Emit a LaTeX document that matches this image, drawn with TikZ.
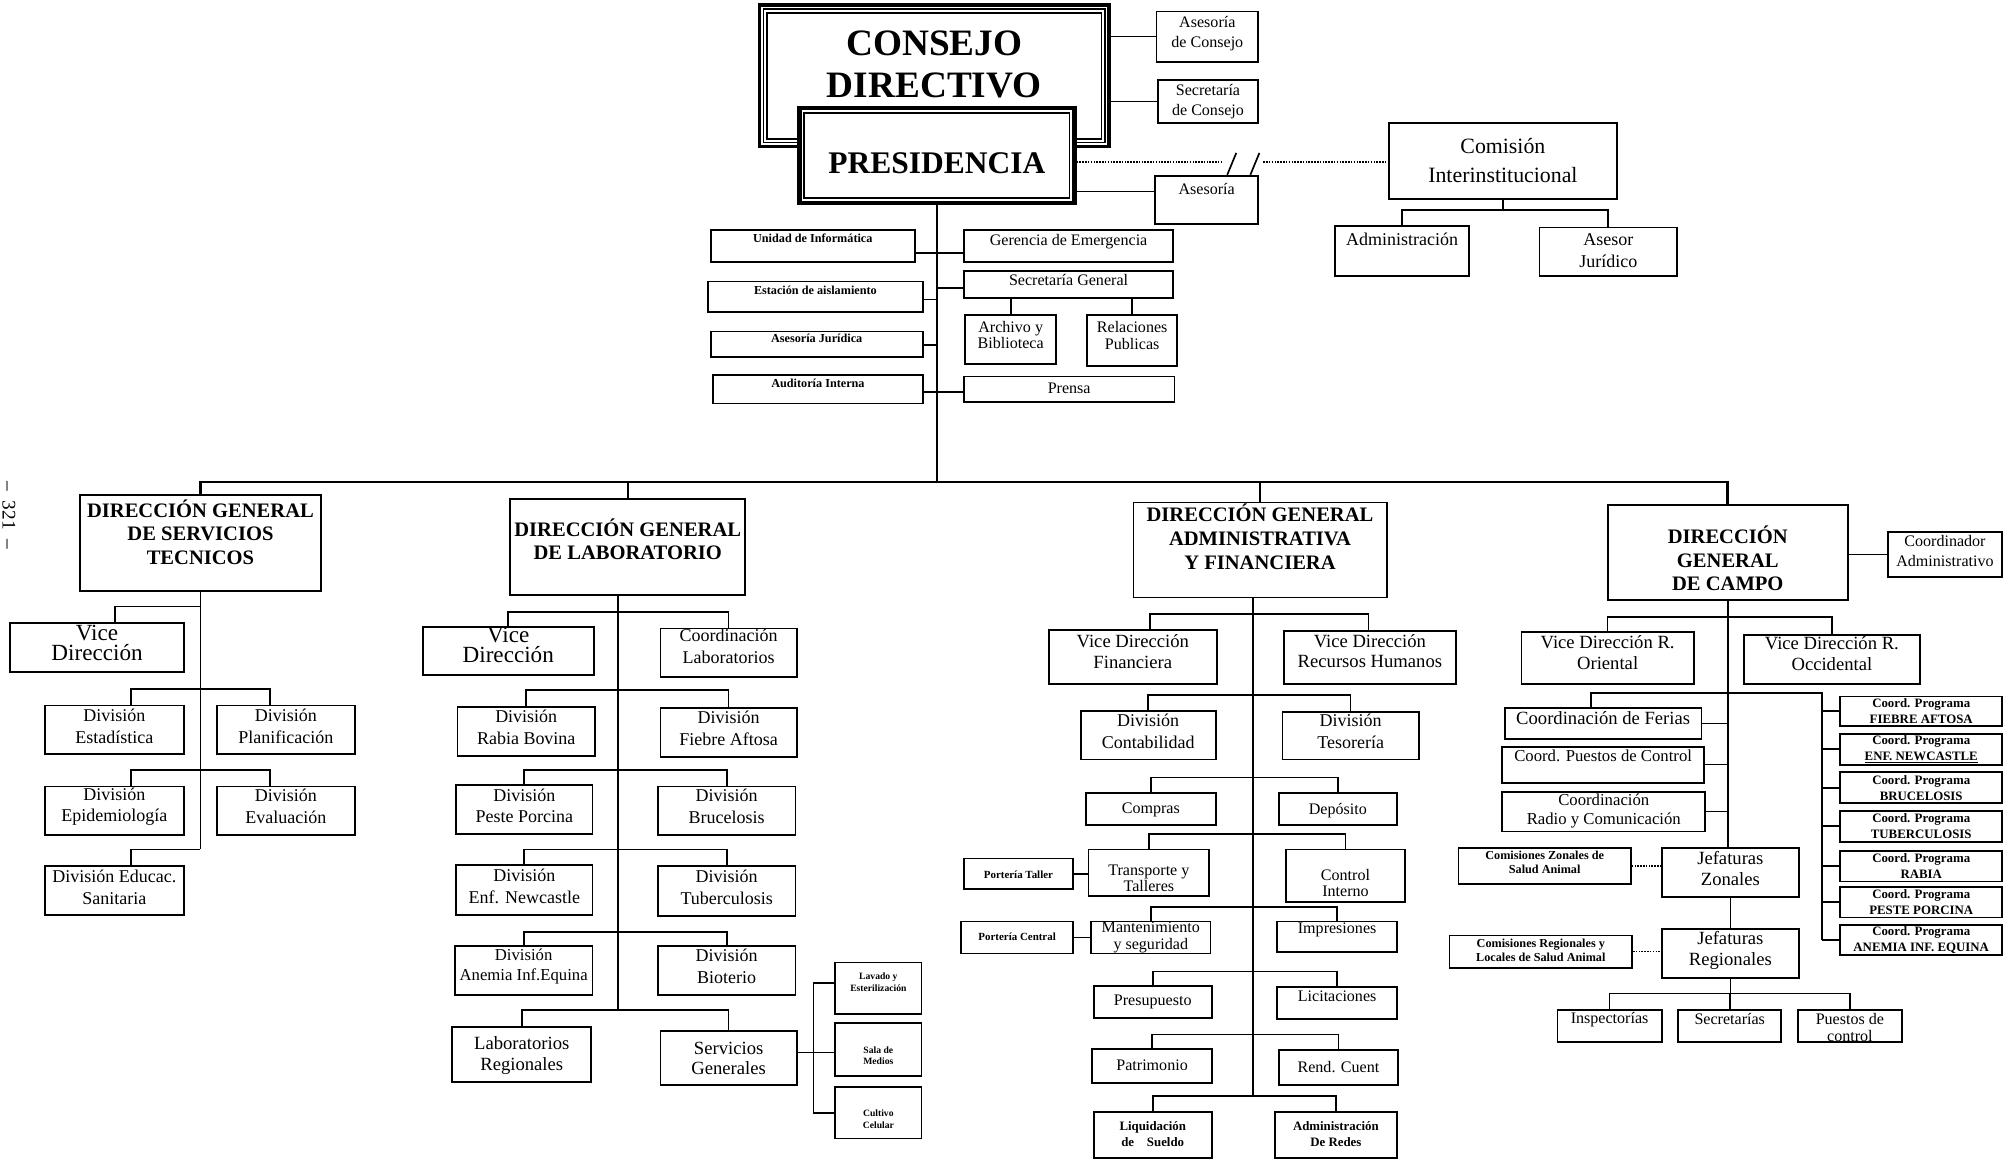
\documentclass[tikz,border=0pt]{standalone}
\usepackage{fontspec}
\setmainfont{Liberation Serif}
\tikzset{
 box/.style={draw,line width=1.4pt,inner sep=0pt,fill=white},
 txt/.style={align=center,inner sep=0pt,font=\fontsize{14}{17}\selectfont},
 conn/.style={line width=1.3pt},
 busline/.style={line width=2.2pt},
 dotconn/.style={line width=1.2pt,densely dotted},
 fdg/.style={font=\bfseries\fontsize{16}{18.3}\selectfont},
 fvd/.style={font=\fontsize{18}{15.5}\selectfont},
 fdiv/.style={font=\fontsize{14}{17}\selectfont},
 fdivs/.style={font=\fontsize{13}{15}\selectfont},
 fmid/.style={font=\fontsize{14.5}{16}\selectfont},
 fsm/.style={font=\fontsize{12.5}{15.5}\selectfont},
 fsmt/.style={font=\fontsize{12.5}{13}\selectfont},
 ftb/.style={font=\bfseries\fontsize{9.5}{11}\selectfont},
 fprog/.style={font=\bfseries\fontsize{10}{12.3}\selectfont},
 fcz/.style={font=\bfseries\fontsize{9.5}{11}\selectfont},
 flav/.style={font=\bfseries\fontsize{7.5}{9}\selectfont},
 fport/.style={font=\bfseries\fontsize{8.5}{10}\selectfont},
 fliq/.style={font=\bfseries\fontsize{10}{12}\selectfont},
 fcom/.style={font=\fontsize{17}{22}\selectfont},
}
\newcommand\bx[8][]{%
  \node[box,minimum width={#5-#3},minimum height={#6-#4}] (#2) at ({(#3+#5)/2},{(#4+#6)/2}) {};%
  \node[txt,#1] (#2t) at ({(#3+#5)/2},#7) {#8};}
\newcommand\brk[3]{\draw[conn] (#1.north) -- (#1.north |- 0,#3) -- (#2.north |- 0,#3) -- (#2.north);}
\begin{document}
\begin{tikzpicture}[x=1pt,y=-1pt]
\fill[white] (0,0) rectangle (1568,903);
\useasboundingbox (0,0) rectangle (1568,903);

% page number
\node[rotate=-90,inner sep=0pt,font=\fontsize{15}{15}\selectfont] (pageno) at (7,401) {–\ \ 321\ \ –};

% Consejo Directivo
\node[draw,line width=3pt,inner sep=0pt,minimum width=272,minimum height=110] (consejo) at (727,59) {};
\draw[line width=1.2pt] ([shift={(4.5,4.5)}]consejo.north west) rectangle ([shift={(-4.5,-4.5)}]consejo.south east);
\draw[line width=1.2pt] ([shift={(7.5,7.5)}]consejo.north west) rectangle ([shift={(-7.5,-7.5)}]consejo.south east);
\node[align=center,inner sep=0pt,font=\bfseries\fontsize{29}{33}\selectfont] (consejot) at (727,50) {CONSEJO\\DIRECTIVO};

% Presidencia
\node[draw,line width=3.5pt,fill=white,inner sep=0pt,minimum width=214,minimum height=74] (pres) at (729,121) {};
\draw[line width=1.2pt] ([shift={(5.5,5.5)}]pres.north west) rectangle ([shift={(-5.5,-5.5)}]pres.south east);
\node[inner sep=0pt,font=\bfseries\fontsize{24.5}{28}\selectfont] (prest) at (729,127) {PRESIDENCIA};

% advisory boxes
\bx[fsm]{asc}{900}{9}{979}{48}{26}{Asesoría\\de Consejo}
\bx[fsm]{sec}{901}{62}{979}{96}{79}{Secretaría\\de Consejo}
\bx[fsm]{ase}{899}{137}{979}{174}{147}{Asesoría}
\bx[fcom]{com}{1081}{96}{1258}{155}{125}{Comisión\\Interinstitucional}
\bx[fdiv]{adm}{1039}{176}{1143}{215}{186}{Administración}
\bx[fdiv]{asj}{1198}{177}{1305}{215}{195}{Asesor\\Jurídico}

% staff
\bx[ftb]{uni}{553}{179}{712}{204}{185.5}{Unidad de Informática}
\bx[ftb]{est}{551}{219}{718}{243}{225.7}{Estación de aislamiento}
\bx[ftb]{asjr}{553}{258}{718}{278}{263}{Asesoría Jurídica}
\bx[ftb]{aud}{555}{292}{718}{314}{298}{Auditoría Interna}
\bx[fsm]{ger}{750}{179}{913}{204}{188}{Gerencia de Emergencia}
\bx[fsm]{sg}{750}{211}{913}{232}{218}{Secretaría General}
\bx[fsmt]{arc}{751}{245}{822}{283}{260.7}{Archivo y\\Biblioteca}
\bx[fsmt]{rel}{846}{245}{916}{285}{261}{Relaciones\\Publicas}
\bx[fsm]{pre}{750}{293}{914}{313}{302}{Prensa}

% general directions
\bx[fdg]{dgst}{62}{385}{250}{460}{414}{DIRECCIÓN GENERAL\\DE SERVICIOS\\TECNICOS}
\bx[fdg]{dgl}{397}{388}{580}{463}{419.7}{DIRECCIÓN GENERAL\\DE LABORATORIO}
\bx[fdg]{dgaf}{882}{391}{1079}{465}{417.7}{DIRECCIÓN GENERAL\\ADMINISTRATIVA\\Y FINANCIERA}
\bx[fdg]{dgc}{1251}{393}{1438}{467}{434.5}{DIRECCIÓN\\GENERAL\\DE CAMPO}
\bx[fsm]{coa}{1469}{414}{1558}{449}{429}{Coordinador\\Administrativo}

% servicios tecnicos
\bx[fvd]{vd1}{8}{485}{143}{523}{500.4}{Vice\\Dirección}
\bx[fdiv]{de}{35}{549}{143}{587}{565}{División\\Estadística}
\bx[fdiv]{dp}{169}{549}{276}{587}{565}{División\\Planificación}
\bx[fdiv]{dep}{35}{612}{143}{650}{627.7}{División\\Epidemiología}
\bx[fdiv]{dev}{169}{612}{276}{650}{627.7}{División\\Evaluación}
\bx[fdiv]{des}{35}{674}{143}{712}{690.6}{División Educac.\\Sanitaria}

% laboratorio
\bx[fvd]{vd2}{329}{488}{462}{525}{501.6}{Vice\\Dirección}
\bx[fdiv]{cl}{514}{489}{620}{527}{503.2}{Coordinación\\Laboratorios}
\bx[fdiv]{drb}{356}{550}{463}{588}{566}{División\\Rabia Bovina}
\bx[fdiv]{dfa}{514}{551}{620}{589}{566.5}{División\\Fiebre Aftosa}
\bx[fdiv]{dpp}{355}{611}{461}{649}{627}{División\\Peste Porcina}
\bx[fdiv]{dbr}{512}{612}{619}{650}{627.5}{División\\Brucelosis}
\bx[fdiv]{dnw}{355}{673}{461}{712}{689.7}{División\\Enf. Newcastle}
\bx[fdiv]{dtb}{512}{674}{619}{713}{690.5}{División\\Tuberculosis}
\bx[fdivs]{dae}{354}{736}{461}{774}{752}{División\\Anemia Inf.Equina}
\bx[fdiv]{dbi}{512}{736}{619}{774}{752}{División\\Bioterio}
\bx[fmid]{lr}{352}{799}{460}{842}{821.4}{Laboratorios\\Regionales}
\bx[fmid]{sgn}{514}{802}{620}{844}{823.6}{Servicios\\Generales}
\bx[flav]{lav}{650}{749}{717}{789}{764.5}{Lavado y\\Esterilización}
\bx[flav]{sal}{650}{796}{717}{837}{821.5}{Sala de\\Medios}
\bx[flav]{cul}{650}{846}{717}{886}{871}{Cultivo\\Celular}

% administrativa y financiera
\bx[fmid]{vdf}{816}{490}{947}{532}{507.2}{Vice Dirección\\Financiera}
\bx[fmid]{vdr}{999}{491}{1133}{532}{506.7}{Vice Dirección\\Recursos Humanos}
\bx[fdiv]{dco}{841}{553}{946}{591}{569.2}{División\\Contabilidad}
\bx[fdiv]{dts}{998}{554}{1104}{591}{569.2}{División\\Tesorería}
\bx[fsm]{cmp}{845}{617}{946}{642}{630.4}{Compras}
\bx[fsm]{dps}{995}{617}{1087}{642}{630.4}{Depósito}
\bx[fsmt]{trt}{847}{661}{941}{697}{683.5}{Transporte y\\Talleres}
\bx[fsmt]{cin}{1001}{661}{1093}{702}{687}{Control\\Interno}
\bx[fport]{pta}{750}{668}{835}{692}{681}{Portería Taller}
\bx[fsmt]{mnt}{849}{717}{942}{742}{729.5}{Mantenimiento\\y seguridad}
\bx[fsm]{imp}{994}{717}{1087}{741}{723.7}{Impresiones}
\bx[fport]{ptc}{748}{717}{835}{742}{729}{Portería Central}
\bx[fsm]{prs}{851}{767}{943}{792}{779.5}{Presupuesto}
\bx[fsm]{lic}{994}{768}{1087}{793}{775.6}{Licitaciones}
\bx[fsm]{pat}{850}{816}{943}{843}{828.8}{Patrimonio}
\bx[fsm]{ren}{995}{817}{1088}{844}{830.6}{Rend. Cuent}
\bx[fliq]{liq}{851}{865}{943}{901}{882.6}{Liquidación\\de\quad Sueldo}
\bx[fliq]{red}{992}{865}{1087}{901}{882.6}{Administración\\De Redes}

% campo
\bx[fmid]{vdo}{1184}{492}{1318}{532}{508}{Vice Dirección R.\\Oriental}
\bx[fmid]{vdoc}{1357}{494}{1494}{532}{508.5}{Vice Dirección R.\\Occidental}
\bx[fmid]{cf}{1171}{551}{1324}{575}{559}{Coordinación de Ferias}
\bx[fdivs]{cpc}{1169}{581}{1326}{609}{588.3}{Coord. Puestos de Control}
\bx[fdivs]{crc}{1169}{616}{1327}{647}{631.3}{Coordinación\\Radio y Comunicación}
\bx[fcz]{czs}{1135}{660}{1269}{688}{671}{Comisiones Zonales de\\Salud Animal}
\bx[fmid]{jz}{1293}{660}{1400}{698}{676}{Jefaturas\\Zonales}
\bx[fcz]{crs}{1128}{728}{1270}{753}{739.5}{Comisiones Regionales y\\Locales de Salud Animal}
\bx[fmid]{jr}{1293}{723}{1400}{761}{739.5}{Jefaturas\\Regionales}
\bx[fsm]{ins}{1212}{786}{1293}{811}{793.2}{Inspectorías}
\bx[fsm]{scr}{1306}{786}{1386}{811}{793.2}{Secretarías}
\bx[fsmt]{pdc}{1399}{786}{1480}{811}{799.7}{Puestos de\\control}
\bx[fprog]{cp1}{1432}{542}{1558}{565}{553.5}{Coord. Programa\\FIEBRE AFTOSA}
\bx[fprog]{cp2}{1432}{571}{1558}{595}{583}{Coord. Programa\\\underline{ENF. NEWCASTLE}}
\bx[fprog]{cp3}{1432}{601}{1558}{625}{613}{Coord. Programa\\BRUCELOSIS}
\bx[fprog]{cp4}{1432}{631}{1558}{655}{643}{Coord. Programa\\TUBERCULOSIS}
\bx[fprog]{cp5}{1432}{662}{1558}{686}{674}{Coord. Programa\\RABIA}
\bx[fprog]{cp6}{1432}{690}{1558}{714}{702}{Coord. Programa\\PESTE PORCINA}
\bx[fprog]{cp7}{1432}{720}{1558}{743}{731.5}{Coord. Programa\\ANEMIA INF. EQUINA}

% ---------- connectors ----------
% top
\draw[conn] (consejo.east |- asc.west) -- (asc.west);
\draw[conn] (consejo.east |- sec.west) -- (sec.west);
\draw[conn] (pres.east |- 0,149) -- (ase.west |- 0,149);
\coordinate (brkA) at (950,126);
\coordinate (brkB) at (983,126);
\draw[dotconn] (pres.east |- 0,126) -- (brkA);
\draw[dotconn] (brkB) -- (com.west |- 0,126);
\draw[line width=1.3pt] (955,136) -- (962,119);
\draw[line width=1.3pt] (973,136) -- (980,119);
\draw[conn] (com.south) -- (com.south |- 0,163.5);
\brk{adm}{asj}{163.5}

% presidency spine and staff
\draw[conn] (pres.south) -- (pres.south |- 0,375);
\draw[conn] (uni.east |- 0,197) -- (ger.west |- 0,197);
\draw[conn] (est.east |- 0,233) -- (pres.south |- 0,233);
\draw[conn] (asjr.east |- 0,268.5) -- (pres.south |- 0,268.5);
\draw[conn] (aud.east |- 0,304.8) -- (pre.west |- 0,304.8);
\draw[conn] (sg.west |- 0,224) -- (pres.south |- 0,224);
\draw[conn] (sg.south -| arc.north) -- (arc.north);
\draw[conn] (sg.south -| rel.north) -- (rel.north);

% main bus
\draw[busline] (dgst.north) -- (dgst.north |- 0,375) -- (dgc.north |- 0,375) -- (dgc.north);
\draw[conn] (dgl.north) -- (dgl.north |- 0,375);
\draw[conn] (dgaf.north) -- (dgaf.north |- 0,375);

% servicios tecnicos
\draw[conn] (dgst.south) -- (dgst.south |- 0,661);
\draw[conn] (vd1.north -| 89.5,0) -- (89.5,472) -- (dgst.south |- 0,472);
\draw[conn] (de.north -| 102,0) -- (102,536) -- (210,536) -- (dp.north -| 210,0);
\draw[conn] (dep.north -| 102,0) -- (102,599) -- (210,599) -- (dev.north -| 210,0);
\draw[conn] (des.north -| 102,0) -- (102,661) -- (dgst.south |- 0,661);

% laboratorio
\draw[conn] (dgl.south -| 481,0) -- (481,786);
\brk{vd2}{cl}{476}
\brk{drb}{dfa}{537}
\brk{dpp}{dbr}{599}
\brk{dnw}{dtb}{661}
\brk{dae}{dbi}{725}
\brk{lr}{sgn}{786}
\draw[conn] (sgn.east |- 0,819) -- (sal.west |- 0,819);
\draw[conn] (lav.west |- 0,765) -- (633,765) -- (633,866) -- (cul.west |- 0,866);

% administrativa
\draw[conn] (dgaf.south -| 975,0) -- (975,853);
\draw[conn] (vdf.north -| 895,0) -- (895,478) -- (1065,478) -- (vdr.north -| 1065,0);
\brk{dco}{dts}{541}
\brk{cmp}{dps}{605}
\brk{trt}{cin}{649}
\brk{mnt}{imp}{706}
\brk{prs}{lic}{756}
\brk{pat}{ren}{805}
\brk{liq}{red}{853}
\draw[conn] (pta.east) -- (pta.east -| trt.west);
\draw[conn] (ptc.east) -- (ptc.east -| mnt.west);

% campo
\draw[conn] (coa.west) -- (coa.west -| dgc.east);
\draw[conn] (dgc.south) -- (dgc.south |- jz.north);
\brk{vdo}{vdoc}{480}
\draw[conn] (cf.north -| 1238,0) -- (1238,539.5) -- (1418,539.5) -- (cp7.west -| 1418,0);
\foreach \n in {1,...,7}{\draw[conn] (cp\n.west) -- (cp\n.west -| 1418,0);}
\draw[conn] (cf.east) -- (cf.east -| dgc.south);
\draw[conn] (cpc.east) -- (cpc.east -| dgc.south);
\draw[conn] (crc.east) -- (crc.east -| dgc.south);
\draw[dotconn] (czs.east) -- (czs.east -| jz.west);
\draw[dotconn] (crs.east) -- (crs.east -| jr.west);
\draw[conn] (jz.south) -- (jr.north);
\draw[conn] (jr.south) -- (jr.south |- 0,773);
\brk{ins}{pdc}{773}
\draw[conn] (scr.north) -- (scr.north |- 0,773);
\end{tikzpicture}
\end{document}
